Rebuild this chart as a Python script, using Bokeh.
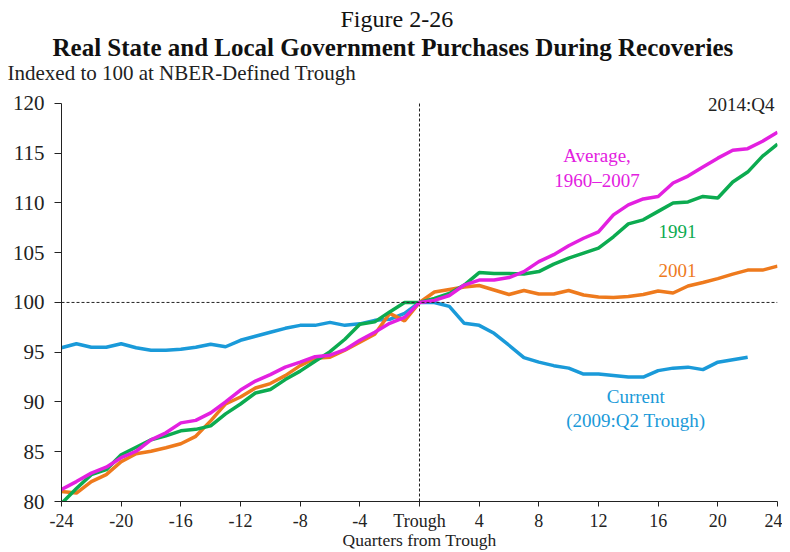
from bokeh.plotting import figure
from bokeh.models import Span, Label, Title, FixedTicker, ColumnDataSource
from bokeh.embed import file_html
from bokeh.resources import INLINE

quarters = list(range(-24, 25))
quarters_current = list(range(-24, 23))

average = [81.2, 82.0, 82.85, 83.45, 84.4, 85.05, 86.2, 86.9, 87.9, 88.15, 88.9, 90.0,
           91.2, 92.1, 92.75, 93.5, 94.0, 94.55, 94.7, 95.25, 96.2, 97.0, 97.9, 98.5,
           100.0, 100.2, 100.7, 101.75, 102.25, 102.25, 102.5, 103.1, 104.1, 104.8, 105.7, 106.45,
           107.1, 108.8, 109.8, 110.4, 110.65, 112.0, 112.7, 113.6, 114.5, 115.3, 115.45, 116.2, 117.1]
r1991 = [79.8, 81.3, 82.7, 83.2, 84.7, 85.45, 86.2, 86.6, 87.1, 87.25, 87.6, 88.8,
         89.8, 90.9, 91.25, 92.25, 93.1, 94.1, 95.05, 96.3, 97.8, 98.05, 99.05, 100.0,
         100.0, 100.4, 100.9, 101.75, 103.0, 102.9, 102.9, 102.85, 103.1, 103.85, 104.45, 104.95,
         105.45, 106.6, 107.9, 108.3, 109.15, 110.0, 110.1, 110.65, 110.5, 112.1, 113.1, 114.7, 115.9]
r2001 = [81.0, 80.85, 82.0, 82.7, 84.0, 84.8, 85.05, 85.4, 85.8, 86.55, 88.1, 89.8,
         90.5, 91.4, 91.85, 92.65, 93.65, 94.4, 94.5, 95.2, 96.0, 96.8, 98.9, 98.15,
         100.0, 101.05, 101.3, 101.55, 101.7, 101.25, 100.8, 101.2, 100.85, 100.85, 101.2, 100.75,
         100.55, 100.5, 100.6, 100.8, 101.15, 100.95, 101.65, 102.0, 102.4, 102.85, 103.25, 103.25, 103.65]
current = [95.45, 95.85, 95.5, 95.5, 95.85, 95.45, 95.2, 95.2, 95.3, 95.5, 95.8, 95.55,
           96.2, 96.6, 97.0, 97.4, 97.7, 97.7, 98.0, 97.7, 97.85, 98.2, 98.3, 98.9,
           100.0, 100.0, 99.6, 97.9, 97.7, 96.9, 95.7, 94.45, 94.0, 93.65, 93.4, 92.8,
           92.8, 92.65, 92.5, 92.5, 93.15, 93.4, 93.5, 93.25, 94.0, 94.25, 94.5]

x_ticks = [-24, -20, -16, -12, -8, -4, 0, 4, 8, 12, 16, 20, 24]
x_tick_labels = {-24: "-24", -20: "-20", -16: "-16", -12: "-12", -8: "-8", -4: "-4", 0: "Trough",
                 4: "4", 8: "8", 12: "12", 16: "16", 20: "20", 24: "24"}
y_ticks = [80, 85, 90, 95, 100, 105, 110, 115, 120]

C_BLUE = "#1a9ad9"
C_GREEN = "#0cab50"
C_ORANGE = "#ee7a1d"
C_MAGENTA = "#e320e0"
FONT = "Liberation Serif"

p = figure(width=782, height=552, output_backend="svg", toolbar_location=None,
           x_range=(-24, 24), y_range=(80, 122),
           min_border_left=61, min_border_right=5, min_border_top=83, min_border_bottom=0)
p.outline_line_color = None
p.xgrid.visible = False
p.ygrid.visible = False
p.background_fill_color = "white"

# titles (added innermost first)
t3 = Title(text="Indexed to 100 at NBER-Defined Trough", align="left", offset=-54,
           text_font=FONT, text_font_size="21px", text_font_style="normal", text_color="#222222",
           standoff=-3)
p.add_layout(t3, "above")
t2 = Title(text="Real State and Local Government Purchases During Recoveries", align="left", offset=-9,
           text_font=FONT, text_font_size="25px", text_font_style="bold", text_color="#111111",
           standoff=0)
p.add_layout(t2, "above")
t1 = Title(text="Figure 2-26", align="left", offset=279,
           text_font=FONT, text_font_size="24px", text_font_style="normal", text_color="#111111",
           standoff=0)
p.add_layout(t1, "above")

# axes
p.xaxis.ticker = FixedTicker(ticks=x_ticks, minor_ticks=[])
p.xaxis.major_label_overrides = x_tick_labels
p.yaxis.ticker = FixedTicker(ticks=y_ticks, minor_ticks=[])
p.yaxis.bounds = (80, 120)
for ax in (p.xaxis, p.yaxis):
    ax.axis_line_color = "#222222"
    ax.major_tick_line_color = "#222222"
    ax.major_tick_in = 0
    ax.minor_tick_line_color = None
    ax.major_label_text_font = FONT
    ax.major_label_text_color = "#222222"
p.xaxis.major_tick_out = 5
p.yaxis.major_tick_out = 7
p.xaxis.major_label_text_font_size = "18px"
p.yaxis.major_label_text_font_size = "21px"
p.xaxis.major_label_standoff = 4
p.yaxis.major_label_standoff = 10
p.xaxis.axis_label = "Quarters from Trough"
p.xaxis.axis_label_text_font = FONT
p.xaxis.axis_label_text_font_size = "17.5px"
p.xaxis.axis_label_text_font_style = "normal"
p.xaxis.axis_label_text_color = "#222222"
p.xaxis.axis_label_standoff = -4

# reference lines
p.add_layout(Span(location=100, dimension="width", line_color="#222222", line_width=1, line_dash="3 2"))
p.line([0, 0], [80, 120], line_color="#222222", line_width=1, line_dash="3 2")

src = ColumnDataSource(dict(q=quarters, avg=average, r91=r1991, r01=r2001))
src_c = ColumnDataSource(dict(q=quarters_current, cur=current))
p.line("q", "cur", source=src_c, line_color=C_BLUE, line_width=3.5)
p.line("q", "r01", source=src, line_color=C_ORANGE, line_width=3.5)
p.line("q", "r91", source=src, line_color=C_GREEN, line_width=3.5)
p.line("q", "avg", source=src, line_color=C_MAGENTA, line_width=3.5)

def lab(x, y, text, color, size="19px", align="center"):
    p.add_layout(Label(x=x, y=y, text=text, text_color=color, text_font=FONT,
                       text_font_size=size, text_align=align, text_baseline="middle"))

lab(23.8, 119.9, "2014:Q4", "#222222", "19px", "right")
lab(11.9, 114.8, "Average,", C_MAGENTA)
lab(11.9, 112.3, "1960\u20132007", C_MAGENTA)
lab(17.3, 107.1, "1991", C_GREEN)
lab(17.3, 103.2, "2001", C_ORANGE)
lab(14.5, 90.6, "Current", C_BLUE)
lab(14.5, 88.1, "(2009:Q2 Trough)", C_BLUE)

open("out.html", "w").write(file_html(p, INLINE))
